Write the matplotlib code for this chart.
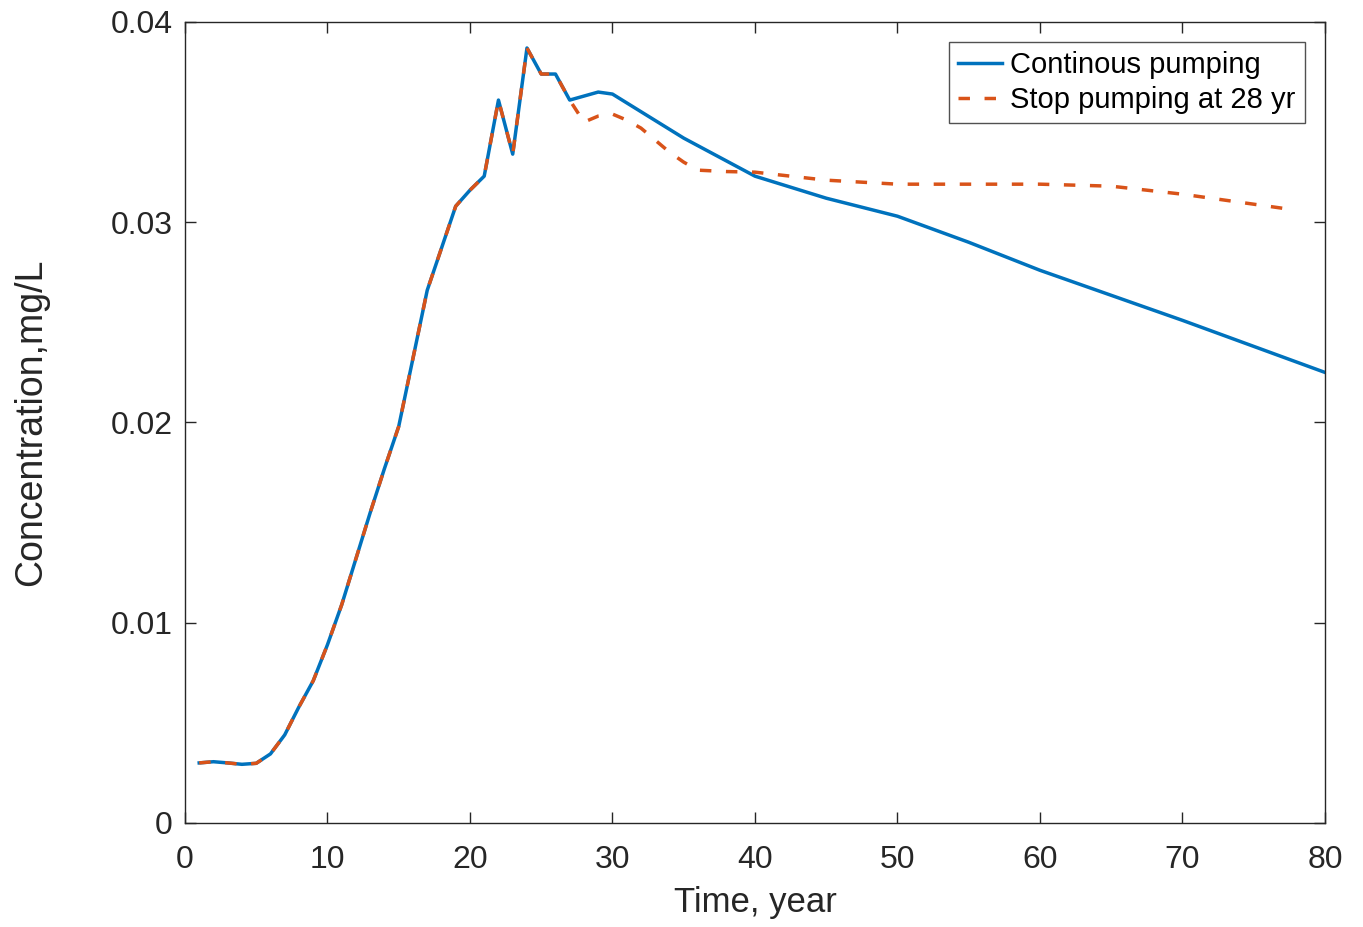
import numpy as np
import matplotlib
matplotlib.use('Agg')
import matplotlib.pyplot as plt

# Continuous pumping (blue solid)
t_cont = [1, 2, 3, 4, 5, 6, 7, 8, 9, 10, 11, 12, 13, 14, 15, 16, 17, 18, 19, 20,
          21, 22, 23, 24, 25, 26, 27, 28, 29, 30, 35, 40, 45, 50, 55, 60, 70, 80]
c_cont = [0.0030, 0.00306, 0.0030, 0.00293, 0.00298, 0.00345, 0.0044, 0.0058, 0.0071, 0.0089,
          0.0109, 0.0132, 0.0155, 0.0177, 0.0198, 0.0232, 0.0266, 0.0287, 0.0308, 0.0316,
          0.0323, 0.0361, 0.0334, 0.0387, 0.0374, 0.0374, 0.0361, 0.0363, 0.0365, 0.0364,
          0.0342, 0.0323, 0.0312, 0.0303, 0.0290, 0.0276, 0.0251, 0.0225]

# Stop pumping at 28 yr (orange dashed)
t_stop = [1, 2, 3, 4, 5, 6, 7, 8, 9, 10, 11, 12, 13, 14, 15, 16, 17, 18, 19, 20,
          21, 22, 23, 24, 25, 26, 27, 28, 29, 30, 31, 32, 33, 34, 35, 36, 38, 40,
          45, 50, 55, 60, 65, 70, 77]
c_stop = [0.0030, 0.00306, 0.0030, 0.00293, 0.00298, 0.00345, 0.0044, 0.0058, 0.0071, 0.0089,
          0.0109, 0.0132, 0.0155, 0.0177, 0.0198, 0.0232, 0.0266, 0.0287, 0.0308, 0.0316,
          0.0323, 0.0361, 0.0334, 0.0387, 0.0374, 0.0374, 0.0361, 0.0350, 0.0353, 0.0354,
          0.0351, 0.0347, 0.0341, 0.0335, 0.0330, 0.0326, 0.03253, 0.0325,
          0.0321, 0.0319, 0.0319, 0.0319, 0.0318, 0.0314, 0.0307]

xticks = [0, 10, 20, 30, 40, 50, 60, 70, 80]
yticks = [0, 0.01, 0.02, 0.03, 0.04]
ytick_labels = ['0', '0.01', '0.02', '0.03', '0.04']

plt.rcParams['font.family'] = ['Liberation Sans', 'DejaVu Sans']

fig = plt.figure(figsize=(13.63, 9.27), dpi=100)
ax = fig.add_axes([0.1357, 0.1122, 0.8364, 0.8641])

ax.plot(t_cont, c_cont, color='#0072BD', lw=2.5, label='Continous pumping')
ax.plot(t_stop, c_stop, color='#D95319', lw=2.5, dashes=(3.3, 4.2),
        label='Stop pumping at 28 yr')

ax.set_xlim(0, 80)
ax.set_ylim(0, 0.04)
ax.set_xticks(xticks)
ax.set_yticks(yticks)
ax.set_yticklabels(ytick_labels)

tick_col = '#262626'
ax.tick_params(direction='in', top=True, right=True, length=8, width=1.0,
               labelsize=23, colors=tick_col)
ax.tick_params(axis='x', pad=16)
ax.tick_params(axis='y', pad=9)
for s in ax.spines.values():
    s.set_color(tick_col)
    s.set_linewidth(1.0)

ax.set_xlabel('Time, year', fontsize=25, color=tick_col, labelpad=8)
ax.set_ylabel('Concentration,mg/L', fontsize=27, color=tick_col, labelpad=44)

leg = ax.legend(loc='upper right', fontsize=21, frameon=True, fancybox=False,
                handlelength=1.5, borderpad=0.3, labelspacing=0.25,
                handletextpad=0.3, borderaxespad=0.7)
leg.get_frame().set_edgecolor('#262626')
leg.get_frame().set_linewidth(1.0)

fig.savefig('out.png', dpi=100)
